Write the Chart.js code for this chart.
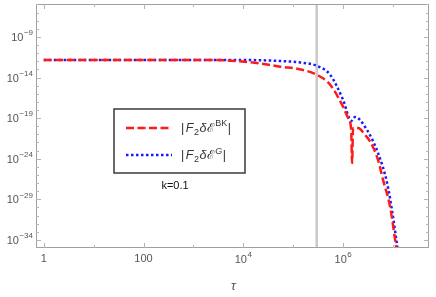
<!DOCTYPE html>
<html>
<head>
<meta charset="utf-8">
<script src="https://cdn.jsdelivr.net/npm/chart.js@4.4.0/dist/chart.umd.min.js"></script>
<style>
  body { margin: 0; background: #fff; }
</style>
</head>
<body>
<canvas id="chart" width="436" height="297"></canvas>
<script>
// values
const tauBK = [1, 30, 300, 1400, 5500, 2.2e4, 5.5e4, 1.4e5, 3.0e5, 5.5e5, 1.0e6, 1.26e6, 1.45e6, 1.51e6, 1.58e6, 2.0e6, 2.75e6, 3.5e6, 5.0e6, 6.3e6, 8.7e6, 1.1e7, 1.2e7];
const valBK = [1.5e-12, 1.5e-12, 1.5e-12, 1.5e-12, 1.2e-12, 5.5e-13, 2.2e-13, 1.0e-13, 2.1e-14, 1.3e-15, 2.4e-18, 1.05e-19, 3.5e-21, 3e-25, 6.3e-21, 6.3e-21, 8.5e-22, 1.2e-22, 7e-25, 2.5e-27, 1.3e-30, 1e-34, 3e-36];
const tauG = [1, 30, 300, 5500, 2.2e4, 5.5e4, 1.4e5, 3.0e5, 5.5e5, 1.0e6, 1.45e6, 1.74e6, 3.0e6, 5.0e6, 7.6e6, 9.5e6, 1.26e7];
const valG = [1.5e-12, 1.5e-12, 1.5e-12, 1.5e-12, 1.35e-12, 1.1e-12, 7e-13, 2.7e-13, 2.1e-14, 1.7e-17, 4.5e-20, 1.4e-19, 3.5e-21, 5e-24, 1e-27, 5e-31, 3e-36];
const tauMark = 2.95e5;

const xTickExps = [0, 1, 2, 3, 4, 5, 6, 7];
const xLabelExps = [0, 2, 4, 6];
const yTickExps = [-34, -33, -32, -31, -30, -29, -28, -27, -26, -25, -24, -23, -22, -21, -20, -19, -18, -17, -16, -15, -14, -13, -12, -11, -10, -9, -8, -7, -6, -5];
const yLabelExps = [-9, -14, -19, -24, -29, -34];
const kLabel = 'k=0.1';
const xTitle = 'τ';

const labelBK = [['|', ''], ['F', 'i'], ['2', 'sub'], ['δ', 'i'], ['ℰ', ''], ['BK', 'sup'], ['|', '']];
const labelG = [['|', ''], ['F', 'i'], ['2', 'sub'], ['δ', 'i'], ['ℰ', ''], ['G', 'isup'], ['|', '']];

const FONT = '"Liberation Sans", Arial, sans-serif';

function toPoints(xs, ys) {
    return xs.map((x, i) => ({ x: x, y: ys[i] }));
}

// writes 10 with a superscript exponent
function drawPow(ctx, exp, x, y, align) {
    let base = '10';
    let sup = String(exp).replace('-', '\u2212');
    ctx.font = '11px ' + FONT;
    let wb = ctx.measureText(base).width;
    ctx.font = '8px ' + FONT;
    let ws = ctx.measureText(sup).width;
    let w = wb + ws + 0.5;
    let x0 = align === 'right' ? x - w : x - w / 2;
    ctx.textAlign = 'left';
    ctx.textBaseline = 'middle';
    ctx.font = '11px ' + FONT;
    ctx.fillText(base, x0, y);
    ctx.font = '8px ' + FONT;
    ctx.fillText(sup, x0 + wb + 0.5, y - 5);
}

function drawLabel(ctx, parts, x, y) {
    ctx.textAlign = 'left';
    ctx.textBaseline = 'middle';
    let cx = x;
    parts.forEach((p) => {
        let dy = 0;
        let f = '12.5px ' + FONT;
        if (p[1] === 'i') f = 'italic 12.5px ' + FONT;
        if (p[1] === 'sub') { f = '9px ' + FONT; dy = 3.5; }
        if (p[1] === 'sup') { f = '9px ' + FONT; dy = -5; }
        if (p[1] === 'isup') { f = 'italic 9px ' + FONT; dy = -5; }
        ctx.font = f;
        ctx.fillText(p[0], cx, y + dy);
        cx += ctx.measureText(p[0]).width + (p[0] === '|' ? 1.5 : 0.5);
    });
}

const framePlugin = {
    id: 'frame',
    beforeDatasetsDraw(chart) {
        const ctx = chart.ctx;
        const a = chart.chartArea;
        const xs = chart.scales.x;
        // vertical gray marker
        let px = xs.getPixelForValue(tauMark);
        ctx.save();
        ctx.strokeStyle = '#c8c8c8';
        ctx.lineWidth = 2.5;
        ctx.beginPath();
        ctx.moveTo(px, a.top);
        ctx.lineTo(px, a.bottom);
        ctx.stroke();
        ctx.restore();
    },
    afterDraw(chart) {
        const ctx = chart.ctx;
        const a = chart.chartArea;
        const xs = chart.scales.x;
        const ys = chart.scales.y;
        ctx.save();
        // frame
        ctx.strokeStyle = '#a0a0a0';
        ctx.lineWidth = 1;
        ctx.strokeRect(a.left + 0.5, a.top + 0.5, a.right - a.left - 1, a.bottom - a.top - 1);
        // ticks
        ctx.strokeStyle = '#b4b4b4';
        ctx.beginPath();
        xTickExps.forEach((e) => {
            let px = Math.round(xs.getPixelForValue(Math.pow(10, e))) + 0.5;
            let len = xLabelExps.includes(e) ? 5 : 3;
            ctx.moveTo(px, a.bottom); ctx.lineTo(px, a.bottom - len);
            ctx.moveTo(px, a.top); ctx.lineTo(px, a.top + len);
        });
        yTickExps.forEach((e) => {
            let py = Math.round(ys.getPixelForValue(Math.pow(10, e))) + 0.5;
            let len = yLabelExps.includes(e) ? 5 : 3;
            ctx.moveTo(a.left, py); ctx.lineTo(a.left + len, py);
            ctx.moveTo(a.right, py); ctx.lineTo(a.right - len, py);
        });
        ctx.stroke();

        // tick labels
        ctx.fillStyle = '#555555';
        xLabelExps.forEach((e) => {
            let px = xs.getPixelForValue(Math.pow(10, e));
            if (e < 3) {
                ctx.font = '11px ' + FONT;
                ctx.textAlign = 'center';
                ctx.textBaseline = 'middle';
                ctx.fillText(String(Math.pow(10, e)), px, a.bottom + 11);
            } else {
                drawPow(ctx, e, px, a.bottom + 12, 'center');
            }
        });
        yLabelExps.forEach((e) => {
            let py = ys.getPixelForValue(Math.pow(10, e));
            drawPow(ctx, e, a.left - 3, py + 1, 'right');
        });

        // axis title
        ctx.font = 'italic 13px ' + FONT;
        ctx.textAlign = 'center';
        ctx.textBaseline = 'middle';
        ctx.fillText(xTitle, (a.left + a.right) / 2 + 1, a.bottom + 38);

        // legend box
        let bx = 114, by = 109, bw = 131, bh = 64;
        ctx.fillStyle = '#ffffff';
        ctx.fillRect(bx, by, bw, bh);
        ctx.strokeStyle = '#3a3a3a';
        ctx.lineWidth = 1.5;
        ctx.strokeRect(bx, by, bw, bh);
        const labels = [labelBK, labelG];
        chart.data.datasets.forEach((ds, i) => {
            let ly = by + 19 + i * 27;
            ctx.strokeStyle = ds.borderColor;
            ctx.lineWidth = ds.borderWidth;
            ctx.setLineDash(ds.borderDash);
            ctx.beginPath();
            ctx.moveTo(bx + 12, ly);
            ctx.lineTo(bx + 58, ly);
            ctx.stroke();
            ctx.setLineDash([]);
            ctx.fillStyle = '#333333';
            drawLabel(ctx, labels[i], bx + 67, ly + 1);
        });

        // k label
        ctx.fillStyle = '#111111';
        ctx.font = '11px ' + FONT;
        ctx.textAlign = 'center';
        ctx.textBaseline = 'middle';
        ctx.fillText(kLabel, 175, 186);
        ctx.restore();
    }
};

new Chart(document.getElementById('chart'), {
    type: 'line',
    data: {
        datasets: [{
            label: '|F2 δℰ BK|',
            data: toPoints(tauBK, valBK),
            borderColor: '#ff1a1a',
            borderWidth: 2.5,
            borderDash: [8, 3.5],
            pointRadius: 0,
            cubicInterpolationMode: 'monotone',
            fill: false
        }, {
            label: '|F2 δℰ G|',
            data: toPoints(tauG, valG),
            borderColor: '#1a1aff',
            borderWidth: 2.5,
            borderDash: [2.5, 2.5],
            pointRadius: 0,
            cubicInterpolationMode: 'monotone',
            fill: false
        }]
    },
    options: {
        responsive: false,
        devicePixelRatio: 1,
        animation: false,
        layout: { padding: { left: 36, top: 4, right: 7, bottom: 49 } },
        plugins: { legend: { display: false }, tooltip: { enabled: false } },
        scales: {
            x: { type: 'logarithmic', min: 0.72, max: 5.25e7, display: false },
            y: { type: 'logarithmic', min: 1e-35, max: 1.15e-5, display: false }
        }
    },
    plugins: [framePlugin]
});
</script>
</body>
</html>
